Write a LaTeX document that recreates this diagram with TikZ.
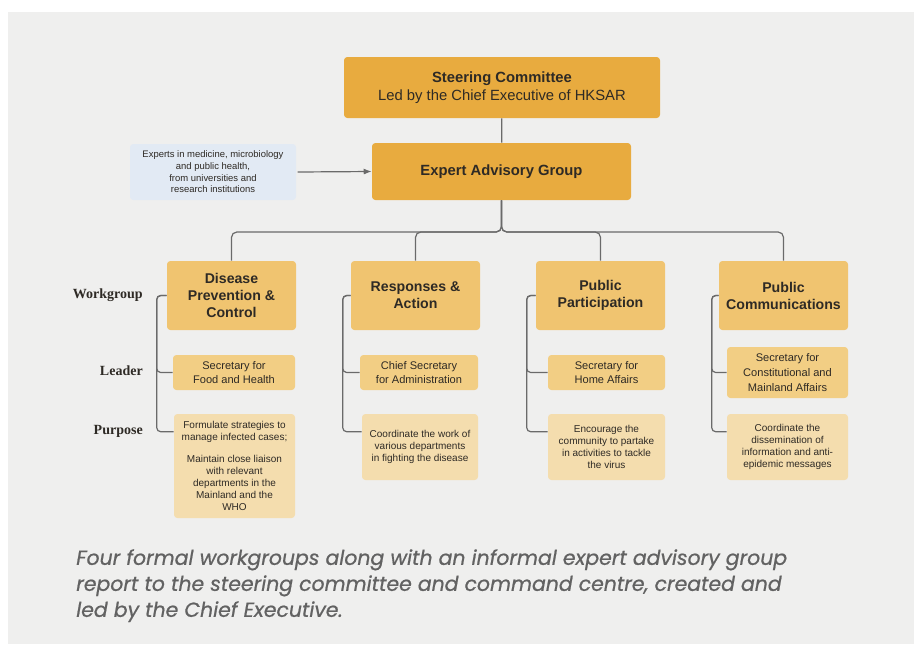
\documentclass[tikz,border=0pt]{standalone}
\usepackage{fontspec}
\setmainfont{Liberation Sans}
\newfontfamily\rowfont{Liberation Serif}
\newfontfamily\capfont{Poppins}[FakeBold=0.7]
\usetikzlibrary{arrows.meta}

\definecolor{paper}{HTML}{EFEFEE}
\definecolor{ink}{HTML}{2E2A25}
\definecolor{linkgrey}{HTML}{6A6A6A}
\definecolor{topgold}{HTML}{E8AB3F}
\definecolor{groupgold}{HTML}{F0C470}
\definecolor{leadgold}{HTML}{F2CE84}
\definecolor{purpgold}{HTML}{F4DDAE}
\definecolor{expblue}{HTML}{E2EAF4}
\definecolor{capgrey}{HTML}{626262}

\tikzset{
  box/.style={rounded corners=2.5pt, inner sep=0pt, align=center, text=ink},
  topbox/.style={box, fill=topgold, font=\fontsize{11.1}{13.5}\selectfont},
  groupbox/.style={box, fill=groupgold, minimum width=96.75pt, minimum height=51.75pt, font=\fontsize{10.6}{12.75}\selectfont\bfseries},
  leadbox/.style={box, fill=leadgold, minimum height=26.25pt, font=\fontsize{8.3}{10.5}\selectfont},
  purpbox/.style={box, fill=purpgold, minimum height=49.5pt, font=\fontsize{7.5}{9}\selectfont},
  link/.style={draw=linkgrey, line width=0.9pt},
  rowlabel/.style={anchor=east, inner sep=0pt, font=\rowfont\bfseries\fontsize{10.5}{12}\selectfont, text=ink}
}

\begin{document}
\begin{tikzpicture}[x=0.75pt,y=0.75pt,yscale=-1,xscale=1]
        \useasboundingbox (0,0) rectangle (914,644);
        \fill [white] (0,0) rectangle (914,644);
        \fill [paper] (8,12) rectangle (914,644);

        \node [topbox, minimum width=237pt, minimum height=45.75pt] (steer) at (502,87.5) {\textbf{Steering Committee}\\Led by the Chief Executive of HKSAR};
        \node [topbox, minimum width=194.25pt, minimum height=42.75pt] (expert) at (501.5,171.5) {\textbf{Expert Advisory Group}};
        \node [box, fill=expblue, minimum width=124.5pt, minimum height=42pt, font=\fontsize{7.1}{8.7}\selectfont] (experts) at (213,172) {Experts in medicine, microbiology\\and public health,\\from universities and\\research institutions};

        \node [groupbox] (dpcwg) at (231.5,295.5) {Disease\\Prevention \&\\Control};
        \node [groupbox] (rawg) at (415.5,295.5) {Responses \&\\Action};
        \node [groupbox] (ppwg) at (600.5,295.5) {Public\\Participation};
        \node [groupbox] (pcwg) at (783.5,295.5) {Public\\Communications};

        \node [leadbox, minimum width=91.5pt] (dpclead) at (234,372.5) {Secretary for\\Food and Health};
        \node [leadbox, minimum width=88.5pt] (ralead) at (419,372.5) {Chief Secretary\\for Administration};
        \node [leadbox, minimum width=87.75pt] (pplead) at (606.5,372.5) {Secretary for\\Home Affairs};
        \node [leadbox, minimum width=90.75pt, minimum height=38.25pt, font=\fontsize{8.3}{11.2}\selectfont] (pclead) at (787.5,372.5) {Secretary for\\Constitutional and\\Mainland Affairs};

        \node [purpbox, minimum width=90.75pt, minimum height=78pt] (dpcpurp) at (234.5,466) {Formulate strategies to\\manage infected cases;\\[8pt]Maintain close liaison\\with relevant\\departments in the\\Mainland and the\\WHO};
        \node [purpbox, minimum width=87pt] (rapurp) at (420,447) {Coordinate the work of\\various departments\\in fighting the disease};
        \node [purpbox, minimum width=87.75pt] (pppurp) at (606.5,447) {Encourage the\\community to partake\\in activities to tackle\\the virus};
        \node [purpbox, minimum width=90.75pt] (pcpurp) at (787.5,447) {Coordinate the\\dissemination of\\information and anti-\\epidemic messages};

        \node [rowlabel] (wglabel) at (143,295) {Workgroup};
        \node [rowlabel] (leadlabel) at (143,371) {Leader};
        \node [rowlabel] (purplabel) at (143,431) {Purpose};

        \draw [link] (steer) -- (expert);
        \draw [link, -{Latex[length=6pt,width=4.5pt]}] ([xshift=1pt]experts.east) -- (expert.west);
        \foreach \wg in {dpcwg,rawg,ppwg,pcwg}
          \draw [link, rounded corners=4pt] (expert.south) -- (501.5,232) -| (\wg.north);

        \foreach \wg/\lead/\purp/\gap in {dpcwg/dpclead/dpcpurp/7.5pt, rawg/ralead/rapurp/6pt, ppwg/pplead/pppurp/6.75pt, pcwg/pclead/pcpurp/5.25pt} {
          \draw [link, rounded corners=3pt] (\wg.west) -- ++(-\gap,0) |- ([yshift=13.5pt]\purp.north west);
          \draw [link, rounded corners=3pt] (\wg.west) -- ++(-\gap,0) |- (\lead.west);
        }

        \node [anchor=north west, inner sep=0pt, align=left, text=capgrey, font=\capfont\itshape\fontsize{15.3}{19.5}\selectfont] (caption) at (76,549) {Four formal workgroups along with an informal expert advisory group\\report to the steering committee and command centre, created and\\led by the Chief Executive.};
\end{tikzpicture}
\end{document}
